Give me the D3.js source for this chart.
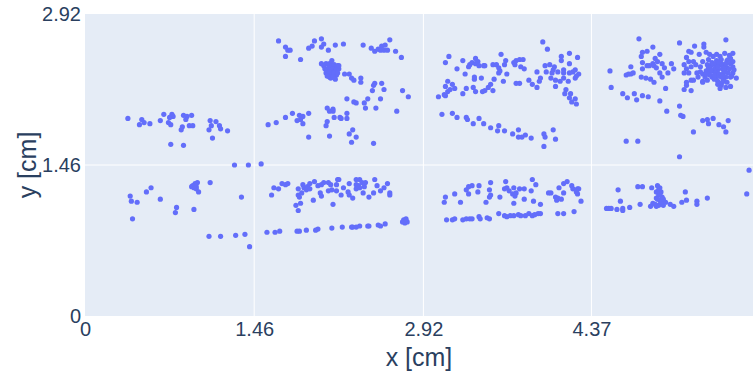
<!DOCTYPE html>
<html>
<head>
<meta charset="utf-8">
<script src="https://cdn.jsdelivr.net/npm/d3@7"></script>
<style>
  body { margin: 0; background: #fff; }
  svg { display: block; font-family: "Liberation Sans", Arial, sans-serif; }
</style>
</head>
<body>
<svg id="chart"></svg>
<script>
// point groups in cm
var leftTop = [[0.37,1.91],[0.49,1.90],[0.47,1.85],[0.51,1.87],[0.56,1.86],[0.68,1.95],[0.65,1.89],[0.75,1.95],[0.76,1.93],[0.73,1.92],
  [0.72,1.87],[0.74,1.85],[0.85,1.94],[0.88,1.93],[0.92,1.94],[0.87,1.90],[0.90,1.84],[0.93,1.84],[0.84,1.83],[0.83,1.80],
  [1.08,1.89],[1.13,1.88],[1.09,1.84],[1.16,1.84],[1.17,1.81],[1.07,1.80],[1.23,1.79],[1.10,1.72],[0.74,1.66],[0.85,1.65],
  [1.58,1.85],[1.65,1.87],[1.29,1.46],[1.41,1.46],[1.52,1.47]];

var leftBottom = [[0.39,1.16],[0.40,1.11],[0.45,1.10],[0.53,1.20],[0.57,1.24],[0.65,1.13],[0.79,1.05],[0.78,1.00],[0.94,1.03],[0.41,0.94],
  [0.95,1.28],[0.93,1.26],[0.96,1.25],[0.94,1.24],[0.97,1.29],[0.92,1.25],[0.96,1.23],[0.95,1.26],[0.98,1.20],[1.08,1.29],
  [1.35,1.15],[1.07,0.77],[1.17,0.77],[1.30,0.78],[1.38,0.79],[1.42,0.67]];

var midTop = [[1.67,2.66],[1.73,2.60],[1.75,2.57],[1.77,2.57],[1.73,2.51],[1.86,2.48],[1.98,2.66],[2.04,2.68],[1.96,2.61],[1.93,2.59],
  [2.06,2.63],[2.04,2.60],[2.10,2.57],[2.16,2.62],[2.23,2.63],[2.40,2.62],[2.47,2.59],[2.50,2.56],[2.53,2.58],[2.56,2.61],
  [2.59,2.62],[2.58,2.57],[2.61,2.57],[2.55,2.57],[2.63,2.67],[2.68,2.56],[2.73,2.50],
  [2.06,2.42],[2.08,2.44],[2.10,2.43],[2.11,2.44],[2.13,2.42],[2.15,2.43],[2.17,2.41],[2.18,2.42],[2.07,2.39],[2.09,2.38],
  [2.11,2.40],[2.12,2.38],[2.14,2.39],[2.16,2.37],[2.17,2.38],[2.19,2.39],[2.08,2.35],[2.10,2.34],[2.11,2.36],[2.13,2.34],
  [2.15,2.35],[2.17,2.33],[2.11,2.31],[2.12,2.30],[2.14,2.31],[2.16,2.29],[2.09,2.32],[2.18,2.35],[2.13,2.47],[2.04,2.44],
  [2.19,2.42],[2.24,2.34],[2.28,2.34],[2.30,2.30],[2.32,2.28],[2.38,2.30],[2.38,2.26],[2.50,2.25],[2.49,2.23],[2.56,2.25],
  [2.58,2.19],[2.48,2.18],[2.74,2.18],[2.79,2.12],[2.26,2.10],[2.32,2.07],[2.34,2.06],[2.44,2.10],[2.41,2.06],[2.42,2.01],
  [2.55,2.10],[2.51,2.01],[2.69,1.98],[2.09,2.01],[2.14,2.00],[2.11,1.98],[2.14,1.98],[1.93,1.96],[1.79,1.96],[1.85,1.94],
  [1.88,1.93],[1.86,1.90],[1.83,1.89],[1.88,1.86],[1.73,1.92],[2.26,1.96],[2.26,1.91],[2.20,1.92],[2.21,1.91],[2.15,1.92],
  [2.09,1.88],[2.08,1.84],[1.93,1.73],[2.11,1.74],[2.28,1.76],[2.31,1.80],[2.34,1.73],[2.30,1.68],[2.49,1.67]];

var midBottom = [[1.63,1.24],[1.67,1.23],[1.70,1.28],[1.73,1.27],[1.75,1.28],[1.61,1.17],[1.82,1.07],[1.84,1.02],[1.86,1.09],[1.84,1.17],
  [1.85,1.15],[1.87,1.19],[1.84,1.23],[1.88,1.27],[1.89,1.24],[1.91,1.22],[1.92,1.25],[1.94,1.23],[1.94,1.28],[1.98,1.30],
  [1.97,1.12],[2.01,1.26],[2.04,1.27],[2.03,1.19],[2.04,1.16],[2.06,1.29],[2.10,1.29],[2.12,1.27],[2.10,1.21],[2.13,1.22],
  [2.17,1.21],[2.17,1.27],[2.14,1.08],[2.18,1.32],[2.19,1.32],[2.21,1.17],[2.23,1.24],[2.27,1.20],[2.28,1.28],[2.28,1.17],
  [2.31,1.14],[2.34,1.32],[2.37,1.32],[2.34,1.27],[2.36,1.26],[2.39,1.29],[2.41,1.25],[2.42,1.29],[2.34,1.23],[2.40,1.19],
  [2.37,1.24],[2.45,1.15],[2.49,1.19],[2.50,1.32],[2.52,1.26],[2.55,1.21],[2.58,1.24],[2.61,1.28],[2.63,1.19],[2.63,1.17],
  [1.57,0.81],[1.64,0.81],[1.68,0.82],[1.83,0.82],[1.85,0.82],[1.91,0.83],[1.99,0.83],[2.01,0.84],[2.13,0.85],[2.22,0.86],
  [2.30,0.86],[2.31,0.86],[2.34,0.86],[2.37,0.87],[2.44,0.87],[2.45,0.87],[2.53,0.88],[2.55,0.87],[2.59,0.89],
  [2.75,0.93],[2.77,0.92],[2.76,0.90],[2.78,0.91],[2.74,0.91],[2.77,0.94]];

var thirdTop = [[3.14,2.51],[3.11,2.45],[3.05,2.12],[3.10,2.14],[3.13,2.17],[3.11,2.22],[3.15,2.19],[3.13,2.27],[3.17,2.24],[3.19,2.20],
  [3.11,2.13],[3.21,2.39],[3.26,2.47],[3.28,2.34],[3.26,2.15],[3.29,2.20],[3.32,2.43],[3.31,2.41],[3.34,2.45],[3.37,2.49],
  [3.37,2.44],[3.39,2.46],[3.40,2.42],[3.44,2.42],[3.45,2.42],[3.36,2.29],[3.36,2.31],[3.42,2.30],[3.35,2.21],[3.37,2.17],
  [3.43,2.17],[3.45,2.18],[3.48,2.21],[3.50,2.24],[3.53,2.29],[3.52,2.18],[3.52,2.43],[3.55,2.43],[3.57,2.40],[3.57,2.35],
  [3.58,2.37],[3.59,2.53],[3.62,2.43],[3.63,2.47],[3.64,2.34],[3.61,2.27],[3.70,2.45],[3.71,2.43],[3.72,2.47],[3.75,2.48],
  [3.78,2.48],[3.76,2.41],[3.79,2.39],[3.72,2.25],[3.75,2.25],[3.83,2.28],[3.86,2.24],[3.90,2.21],[3.90,2.36],[3.93,2.30],
  [3.92,2.27],[3.95,2.65],[3.99,2.58],[3.97,2.42],[3.98,2.36],[4.01,2.43],[4.02,2.30],[4.03,2.35],[4.04,2.38],[4.05,2.41],
  [4.06,2.22],[4.06,2.28],[4.08,2.36],[4.10,2.27],[4.11,2.51],[4.11,2.47],[4.13,2.38],[4.13,2.35],[4.13,2.30],[4.15,2.19],
  [4.14,2.15],[4.18,2.54],[4.18,2.44],[4.18,2.35],[4.17,2.27],[4.19,2.15],[4.21,2.36],[4.23,2.38],[4.23,2.30],[4.25,2.50],
  [4.26,2.34],[4.24,2.32],[4.18,2.11],[4.20,2.07],[4.23,2.10],[4.24,2.05],
  [3.08,1.95],[3.17,1.96],[3.21,1.92],[3.29,1.92],[3.30,1.90],[3.40,1.91],[3.35,1.86],[3.44,1.86],[3.50,1.82],[3.57,1.84],
  [3.56,1.79],[3.62,1.79],[3.69,1.76],[3.74,1.80],[3.74,1.73],[3.77,1.73],[3.80,1.75],[3.85,1.72],[3.96,1.76],[3.97,1.73],
  [4.04,1.80],[4.06,1.71],[3.96,1.64]];

var thirdBottom = [[3.11,1.15],[3.10,1.10],[3.19,1.18],[3.24,1.10],[3.29,1.22],[3.31,1.25],[3.34,1.26],[3.31,1.18],[3.40,1.26],[3.39,1.20],
  [3.50,1.29],[3.49,1.22],[3.50,1.17],[3.49,1.15],[3.46,1.10],[3.58,1.15],[3.63,1.30],[3.62,1.23],[3.64,1.24],[3.66,1.21],
  [3.70,1.24],[3.69,1.18],[3.71,1.16],[3.72,1.19],[3.70,1.09],[3.75,1.23],[3.79,1.23],[3.79,1.13],[3.85,1.21],[3.86,1.32],
  [3.89,1.27],[3.87,1.11],[3.93,1.08],[4.00,1.19],[4.02,1.19],[4.06,1.15],[4.09,1.24],[4.08,1.14],[4.07,1.12],[4.11,1.13],
  [4.13,1.19],[4.13,1.28],[4.16,1.30],[4.20,1.26],[4.21,1.23],[4.25,1.23],[4.26,1.23],[4.25,1.18],[4.24,1.20],[4.28,1.11],
  [3.12,0.93],[3.17,0.93],[3.19,0.94],[3.26,0.93],[3.29,0.94],[3.32,0.94],[3.34,0.94],[3.40,0.96],[3.41,0.94],[3.47,0.95],
  [3.49,0.94],[3.57,0.99],[3.62,0.97],[3.64,0.96],[3.67,0.97],[3.70,0.97],[3.74,0.98],[3.76,0.97],[3.80,0.97],[3.83,0.99],
  [3.86,0.97],[3.88,0.98],[3.91,0.99],[3.93,0.99],[4.08,0.99],[4.13,0.99],[4.22,1.01]];

var rightTop = [[4.78,2.68],[4.90,2.60],[4.81,2.55],[4.85,2.56],[4.80,2.51],[4.96,2.53],[4.92,2.49],[4.94,2.46],[4.90,2.44],[4.98,2.44],
  [4.81,2.45],[4.85,2.42],[4.87,2.42],[4.91,2.42],[4.93,2.40],[5.00,2.40],[5.06,2.44],[5.08,2.39],[5.03,2.35],[4.96,2.35],
  [4.81,2.39],[4.71,2.41],[4.67,2.33],[4.69,2.34],[4.71,2.34],[4.73,2.35],[4.53,2.37],[4.80,2.31],[4.84,2.30],[4.88,2.29],
  [4.91,2.26],[4.98,2.31],[4.54,2.21],[4.64,2.15],[4.68,2.11],[4.74,2.15],[4.76,2.09],[4.81,2.13],[4.86,2.12],[4.96,2.08],
  [5.01,2.20],[5.02,1.98],[5.13,2.64],[5.13,2.03],[5.14,1.94],[5.16,1.93],[4.67,1.69],[4.77,1.69],[5.13,1.54],
  [5.26,2.61],[5.34,2.63],[5.34,2.60],[5.53,2.67],[5.21,2.56],[5.23,2.55],[5.30,2.53],[5.36,2.55],[5.39,2.53],[5.19,2.50],
  [5.21,2.46],[5.25,2.46],[5.17,2.43],[5.19,2.39],[5.17,2.35],[5.21,2.35],[5.23,2.41],[5.27,2.43],[5.28,2.35],[5.23,2.28],
  [5.25,2.28],[5.19,2.26],[5.19,2.23],[5.17,2.19],[5.23,2.18],[5.33,2.27],[5.35,2.31],[5.31,2.36],[5.31,2.41],[5.33,2.46],
  [5.38,2.48],[5.42,2.51],[5.45,2.53],[5.48,2.51],[5.52,2.54],[5.56,2.52],[5.59,2.54],[5.57,2.49],[5.54,2.47],[5.49,2.48],
  [5.45,2.47],[5.41,2.45],[5.37,2.43],[5.40,2.42],[5.44,2.43],[5.48,2.43],[5.52,2.43],[5.57,2.44],[5.59,2.46],[5.59,2.41],
  [5.54,2.40],[5.50,2.39],[5.46,2.38],[5.42,2.37],[5.39,2.36],[5.36,2.37],[5.44,2.35],[5.47,2.34],[5.51,2.35],[5.55,2.35],
  [5.59,2.35],[5.62,2.30],[5.57,2.31],[5.53,2.31],[5.49,2.31],[5.45,2.31],[5.41,2.31],[5.46,2.27],[5.51,2.28],[5.54,2.26],
  [5.49,2.23],[5.46,2.24],[5.57,2.22],[5.53,2.21],[5.48,2.20],[5.42,2.44],[5.38,2.40],[5.33,2.34],[5.29,2.31],[5.39,2.33],
  [5.43,2.29],[5.37,2.28],[5.33,2.26],[5.49,2.44],[5.55,2.48],[5.44,2.40],[5.51,2.40],[5.47,2.45],[5.52,2.37],[5.43,2.33],
  [5.56,2.39],[5.50,2.32],[5.46,2.41],[5.53,2.44],[5.40,2.38],[5.58,2.32],[5.50,2.26],[5.60,2.38],[5.36,2.34],
  [5.33,1.89],[5.37,1.90],[5.42,1.91],[5.38,1.86],[5.47,1.85],[5.51,1.83],[5.55,1.89],[5.53,1.78],[5.25,1.78]];

var rightBottom = [[4.50,1.04],[4.52,1.04],[4.54,1.04],[4.59,1.03],[4.64,1.04],[4.64,1.02],[4.70,1.05],[4.62,1.11],[4.60,1.22],[4.79,1.08],
  [4.77,1.25],[4.81,1.25],[4.89,1.24],[4.96,1.24],[4.93,1.20],[4.97,1.20],[4.95,1.17],[4.98,1.15],[4.96,1.12],[4.97,1.09],
  [4.95,1.07],[4.90,1.09],[4.88,1.06],[4.93,1.06],[4.99,1.07],[5.01,1.10],[5.05,1.08],[5.08,1.06],[4.93,1.14],[4.98,1.12],
  [4.96,1.18],[4.94,1.13],[4.97,1.10],[4.95,1.22],[4.92,1.08],[4.99,1.13],[4.94,1.26],
  [5.18,1.20],[5.19,1.12],[5.15,1.10],[5.28,1.11],[5.28,1.08],[5.37,1.14],[5.71,1.18],[5.73,1.41]];

var xTicks = [0, 1.46, 2.92, 4.37];
var yTicks = [0, 1.46, 2.92];

var width = 753, height = 380;
var margin = {top: 14, right: 0, bottom: 64, left: 85};

var svg = d3.select("#chart")
    .attr("width", width)
    .attr("height", height);

var xScale = d3.scaleLinear()
    .domain([0, 5.764])
    .range([margin.left, width - margin.right]);

var yScale = d3.scaleLinear()
    .domain([0, 2.92])
    .range([height - margin.bottom, margin.top]);

function drawBackground() {
    svg.append("rect")
        .attr("x", margin.left)
        .attr("y", margin.top)
        .attr("width", width - margin.right - margin.left)
        .attr("height", height - margin.bottom - margin.top)
        .attr("fill", "#e5ecf6");

    svg.append("g")
        .selectAll("line")
        .data(xTicks.slice(1))
        .enter()
        .append("line")
        .attr("x1", function (d) { return xScale(d); })
        .attr("x2", function (d) { return xScale(d); })
        .attr("y1", margin.top)
        .attr("y2", height - margin.bottom)
        .attr("stroke", "#fff")
        .attr("stroke-width", 1);

    svg.append("g")
        .selectAll("line")
        .data([1.46])
        .enter()
        .append("line")
        .attr("x1", margin.left)
        .attr("x2", width - margin.right)
        .attr("y1", function (d) { return yScale(d); })
        .attr("y2", function (d) { return yScale(d); })
        .attr("stroke", "#fff")
        .attr("stroke-width", 1);
}

function drawAxis() {
    var xAxis = d3.axisBottom(xScale)
        .tickValues(xTicks)
        .tickSize(0)
        .tickPadding(6)
        .tickFormat(function (d) { return d === 0 ? "0" : d3.format(".2f")(d); });

    var yAxis = d3.axisLeft(yScale)
        .tickValues(yTicks)
        .tickSize(0)
        .tickPadding(4)
        .tickFormat(function (d) { return d === 0 ? "0" : d3.format(".2f")(d); });

    var gx = svg.append("g")
        .attr("transform", "translate(0," + (height - margin.bottom) + ")")
        .call(xAxis);
    var gy = svg.append("g")
        .attr("transform", "translate(" + margin.left + ",0)")
        .call(yAxis);

    [gx, gy].forEach(function (g) {
        g.select(".domain").remove();
        g.selectAll("text")
            .attr("fill", "#2a3f5f")
            .style("font-size", "20px")
            .style("font-family", "'Liberation Sans', Arial, sans-serif");
    });

    svg.append("text")
        .attr("x", (margin.left + 753) / 2)
        .attr("y", 366)
        .attr("text-anchor", "middle")
        .attr("fill", "#2a3f5f")
        .style("font-size", "25px")
        .text("x [cm]");

    svg.append("text")
        .attr("transform", "translate(36," + yScale(1.46) + ") rotate(-90)")
        .attr("text-anchor", "middle")
        .attr("fill", "#2a3f5f")
        .style("font-size", "25px")
        .text("y [cm]");
}

function drawPoints() {
    var data = [].concat(leftTop, leftBottom, midTop, midBottom, thirdTop, thirdBottom, rightTop, rightBottom);
    svg.append("g")
        .selectAll("circle")
        .data(data)
        .enter()
        .append("circle")
        .attr("cx", function (d) { return xScale(d[0]); })
        .attr("cy", function (d) { return yScale(d[1]); })
        .attr("r", 2.6)
        .attr("fill", "#636efa");
}

drawBackground();
drawAxis();
drawPoints();
</script>
</body>
</html>
